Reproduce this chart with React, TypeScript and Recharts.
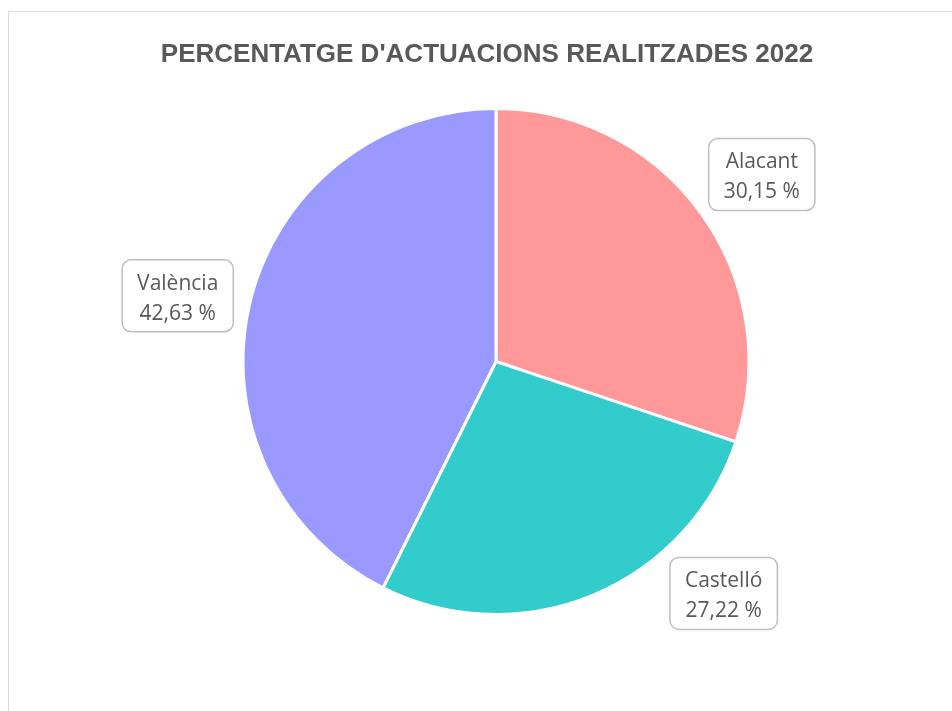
import { PieChart, Pie, Cell } from "recharts";

const provinces = ["Alacant", "Castelló", "València"];
const percentages = [30.15, 27.22, 42.63];
const sliceColors = ["#FF9999", "#33CCCC", "#9999FF"];

const chartTitle = "PERCENTATGE D'ACTUACIONS REALITZADES 2022";

const pieData = provinces.map((name, i) => ({ name, value: percentages[i] }));

const RAD = Math.PI / 180;
const LABEL_SIZE = 21;
const LABEL_FONT = `${LABEL_SIZE}px 'Open Sans'`;
// Excel "best fit" pushes some labels off the slice middle
const angleNudge: Record<string, number> = { Alacant: -0.6, Castelló: 22, València: 1.6 };

let measureCtx: CanvasRenderingContext2D | null = null;
const textWidth = (s: string) => {
  if (!measureCtx) {
    measureCtx = document.createElement("canvas").getContext("2d");
  }
  if (!measureCtx) return s.length * 10;
  measureCtx.font = LABEL_FONT;
  return measureCtx.measureText(s).width;
};

const fmt = (v: number) => v.toFixed(2).replace(".", ",") + " %";

const renderLabel = (props: any) => {
  const { cx, cy, midAngle, outerRadius, name, value } = props;
  const ang = (midAngle + (angleNudge[name] || 0)) * RAD;
  const r = outerRadius + 72;
  const x = cx + r * Math.cos(ang);
  const y = cy - r * Math.sin(ang);
  const line2 = fmt(value);
  const w = Math.max(textWidth(name), textWidth(line2)) + 30;
  const h = 72;
  return (
    <g>
      <rect
        x={x - w / 2}
        y={y - h / 2}
        width={w}
        height={h}
        rx={9}
        fill="#fff"
        stroke="#bfbfbf"
        strokeWidth={1.5}
      />
      <text
        x={x}
        y={y - 6}
        textAnchor="middle"
        fontFamily="'Open Sans'"
        fontSize={LABEL_SIZE}
        fill="#595959"
      >
        {name}
      </text>
      <text
        x={x}
        y={y + 24}
        textAnchor="middle"
        fontFamily="'Open Sans'"
        fontSize={LABEL_SIZE}
        fill="#595959"
      >
        {line2}
      </text>
    </g>
  );
};

export default function App() {
  return (
    <div style={{ position: "relative", width: 936, height: 695 }}>
      <div
        style={{
          position: "fixed",
          left: 8,
          top: 11,
          width: 1000,
          height: 1000,
          border: "1px solid #d9d9d9",
          pointerEvents: "none",
        }}
      />
      <div
        style={{
          position: "absolute",
          left: 79,
          top: 32,
          width: 800,
          textAlign: "center",
          fontFamily: "'Liberation Sans'",
          fontWeight: "bold",
          fontSize: 26,
          lineHeight: "26px",
          color: "#595959",
        }}
      >
        {chartTitle}
      </div>
      <PieChart width={936} height={695} style={{ position: "absolute", left: 0, top: 0 }}>
        <Pie
          data={pieData}
          dataKey="value"
          nameKey="name"
          cx={483}
          cy={348.5}
          outerRadius={253}
          startAngle={90}
          endAngle={-270}
          stroke="#ffffff"
          strokeWidth={3}
          labelLine={false}
          label={renderLabel}
          isAnimationActive={false}
        >
          {pieData.map((d, i) => (
            <Cell key={d.name} fill={sliceColors[i]} />
          ))}
        </Pie>
      </PieChart>
    </div>
  );
}
